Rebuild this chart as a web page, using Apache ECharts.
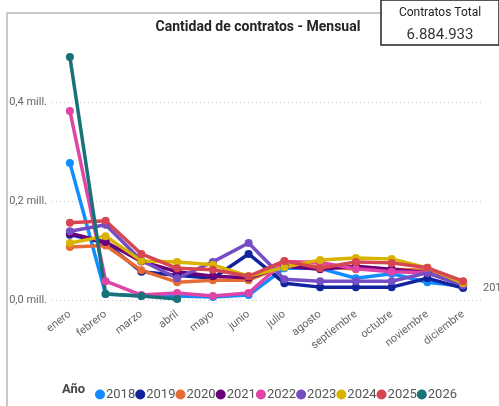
<!DOCTYPE html>
<html lang="es">
<head>
    <meta charset="UTF-8">
    <title>Cantidad de contratos - Mensual</title>
    <script src="https://cdn.jsdelivr.net/npm/echarts@6/dist/echarts.min.js"></script>
    <style>
        html, body { margin: 0; padding: 0; background: #fff; }
        #ech { width: 499px; height: 406px; }
    </style>
</head>
<body>
    <div id="ech"></div>
    <script>
        // datos (millones de contratos)
        let meses = ['enero', 'febrero', 'marzo', 'abril', 'mayo', 'junio', 'julio', 'agosto', 'septiembre', 'octubre', 'noviembre', 'diciembre'];
        let anios = ['2018', '2019', '2020', '2021', '2022', '2023', '2024', '2025', '2026'];
        let colores = ['#118DFF', '#12239E', '#E66C37', '#6B007B', '#E044A7', '#744EC2', '#D9B300', '#D64550', '#197278'];
        let y2018 = [0.277, 0.012, 0.008, 0.008, 0.006, 0.010, 0.064, 0.064, 0.044, 0.053, 0.036, 0.028];
        let y2019 = [0.132, 0.115, 0.057, 0.050, 0.044, 0.093, 0.034, 0.026, 0.026, 0.026, 0.044, 0.024];
        let y2020 = [0.107, 0.110, 0.060, 0.036, 0.040, 0.040, 0.070, 0.068, 0.062, 0.062, 0.060, 0.032];
        let y2021 = [0.135, 0.117, 0.078, 0.057, 0.048, 0.045, 0.068, 0.062, 0.068, 0.062, 0.055, 0.030];
        let y2022 = [0.382, 0.038, 0.010, 0.014, 0.008, 0.014, 0.078, 0.076, 0.063, 0.057, 0.055, 0.032];
        let y2023 = [0.139, 0.152, 0.080, 0.044, 0.077, 0.115, 0.042, 0.038, 0.038, 0.038, 0.055, 0.030];
        let y2024 = [0.115, 0.129, 0.079, 0.077, 0.071, 0.048, 0.066, 0.081, 0.085, 0.083, 0.065, 0.034];
        let y2025 = [0.156, 0.160, 0.093, 0.064, 0.061, 0.048, 0.079, 0.064, 0.077, 0.075, 0.065, 0.038];
        let y2026 = [0.491, 0.012, 0.008, 0.002];
        let valores = [y2018, y2019, y2020, y2021, y2022, y2023, y2024, y2025, y2026];
        let yTicks = [0, 0.2, 0.4];
        let totalContratos = '6.884.933';

        let ech = document.getElementById('ech');
        let my_echart = echarts.init(ech);

        let series = anios.map(function (a, i) {
            return {
                name: a,
                type: 'line',
                data: valores[i],
                symbol: 'circle',
                symbolSize: 8,
                clip: false,
                itemStyle: { color: colores[i] },
                lineStyle: { width: 3.5, color: colores[i] }
            };
        });

        let option = {
            animation: false,
            textStyle: { fontFamily: 'Roboto' },
            grid: { left: 52, right: 18, top: 102, bottom: 106 },
            xAxis: {
                type: 'category',
                data: meses,
                axisLine: { show: false },
                axisTick: { show: false },
                axisLabel: { rotate: 38, color: '#666', fontSize: 11, margin: 13 }
            },
            yAxis: {
                type: 'value',
                min: 0,
                max: yTicks[yTicks.length - 1],
                interval: 0.2,
                axisLabel: {
                    color: '#666', fontSize: 11, margin: 5,
                    formatter: v => v.toFixed(1).replace('.', ',') + ' mill.'
                },
                splitLine: { lineStyle: { color: '#c8c8c8', type: [1, 3] } }
            },
            legend: {
                data: anios,
                left: 90,
                top: 383,
                icon: 'circle',
                itemWidth: 10,
                itemHeight: 10,
                itemGap: 0,
                textStyle: { color: '#555', fontSize: 13, padding: [0, 0, 0, -4] }
            },
            graphic: [
                { type: 'polyline', shape: { points: [[7, 406], [7, 13], [381, 13]] }, style: { stroke: '#c8c8c8', lineWidth: 2, fill: null } },
                { type: 'rect', shape: { x: 381, y: 0, width: 118, height: 45 }, style: { stroke: '#222', lineWidth: 1.5, fill: '#fff' } },
                { type: 'text', x: 440, y: 13, style: { text: 'Contratos Total', fill: '#222', font: '12px Roboto', align: 'center', verticalAlign: 'middle' } },
                { type: 'text', x: 440, y: 35, style: { text: totalContratos, fill: '#333', font: '15px Roboto', align: 'center', verticalAlign: 'middle' } },
                { type: 'text', x: 258, y: 27, style: { text: 'Cantidad de contratos - Mensual', fill: '#252423', font: 'bold 14px Roboto', align: 'center', verticalAlign: 'middle' } },
                { type: 'text', x: 62, y: 390, style: { text: 'Año', fill: '#444', font: 'bold 13px Roboto', verticalAlign: 'middle' } },
                { type: 'text', x: 483, y: 288, style: { text: '201', fill: '#666', font: '11px Roboto', verticalAlign: 'middle' } }
            ],
            series: series
        };

        my_echart.setOption(option);
    </script>
</body>
</html>
